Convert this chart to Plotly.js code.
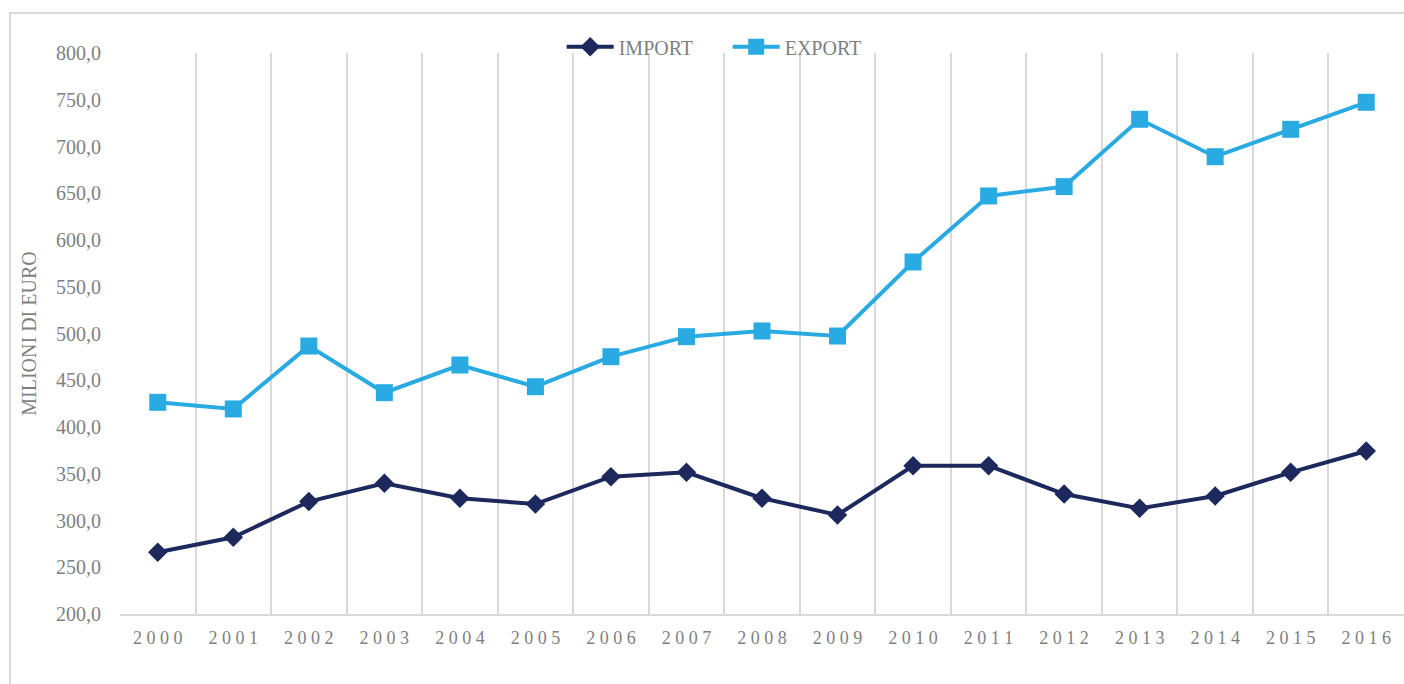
<!DOCTYPE html>
<html>
<head>
<meta charset="utf-8">
<script src="https://cdn.plot.ly/plotly-3.0.1.min.js"></script>
<style>
  html, body { margin: 0; padding: 0; background: #ffffff; }
  #chart { width: 1404px; height: 684px; }
</style>
</head>
<body>
<div id="chart"></div>
<script>
// ---- data ----
const years = ["2000","2001","2002","2003","2004","2005","2006","2007","2008",
               "2009","2010","2011","2012","2013","2014","2015","2016"];
const importValues = [266.0, 282.0, 320.2, 339.8, 323.8, 317.6, 346.9, 351.5, 323.8,
                      305.9, 358.6, 358.6, 328.3, 313.0, 326.2, 351.5, 374.3];
const exportValues = [426.4, 419.3, 486.6, 436.7, 466.3, 443.1, 475.2, 496.6, 502.7,
                      497.3, 576.5, 647.1, 657.1, 729.1, 689.1, 718.4, 747.3];
const yTickVals = [200, 250, 300, 350, 400, 450, 500, 550, 600, 650, 700, 750, 800];
const yTickText = yTickVals.map(v => v.toFixed(1).replace(".", ","));
const xTickText = years.map(y => y.split("").join(" "));

const serif = "Liberation Serif, Times New Roman, serif";
const gray = "#7f7f7f";

const traces = [
  {
    x: years, y: importValues, name: "IMPORT", type: "scatter", mode: "lines+markers",
    line: { color: "#1d285c", width: 4 },
    marker: { symbol: "diamond", size: 15, color: "#1d285c" }
  },
  {
    x: years, y: exportValues, name: "EXPORT", type: "scatter", mode: "lines+markers",
    line: { color: "#29abe2", width: 4 },
    marker: { symbol: "square", size: 17, color: "#29abe2" }
  }
];

const layout = {
  width: 1404, height: 684,
  margin: { l: 120, r: 0, t: 53, b: 70 },
  paper_bgcolor: "#ffffff", plot_bgcolor: "#ffffff",
  showlegend: true,
  legend: {
    orientation: "h", x: 0.344, xanchor: "left", y: 1.011, yanchor: "middle",
    itemwidth: 47, entrywidth: 104, entrywidthmode: "pixels",
    font: { family: serif, size: 20, color: gray }, bgcolor: "rgba(0,0,0,0)"
  },
  xaxis: {
    type: "category", range: [-0.5, 16.5],
    tickson: "boundaries", ticks: "",
    tickvals: years, ticktext: xTickText,
    showgrid: true, gridcolor: "#d9d9d9", gridwidth: 2,
    showline: true, linecolor: "#d9d9d9", linewidth: 2,
    zeroline: false,
    tickfont: { family: serif, size: 18, color: gray },
    ticklabelstandoff: 6
  },
  yaxis: {
    range: [200, 800], tickvals: yTickVals, ticktext: yTickText,
    showgrid: false, zeroline: false, showline: false, ticks: "",
    tickfont: { family: serif, size: 20, color: gray },
    ticklabelstandoff: 18,
    title: { text: "MILIONI DI EURO", font: { family: serif, size: 20, color: gray }, standoff: 14 }
  },
  shapes: [
    {
      type: "rect", xref: "paper", yref: "paper",
      x0: -0.0857, x1: 1.05, y0: -0.3, y1: 1.0713,
      line: { color: "#d9d9d9", width: 2 }, fillcolor: "rgba(0,0,0,0)", layer: "below"
    }
  ]
};

Plotly.newPlot("chart", traces, layout, { displayModeBar: false, staticPlot: true });
</script>
</body>
</html>
